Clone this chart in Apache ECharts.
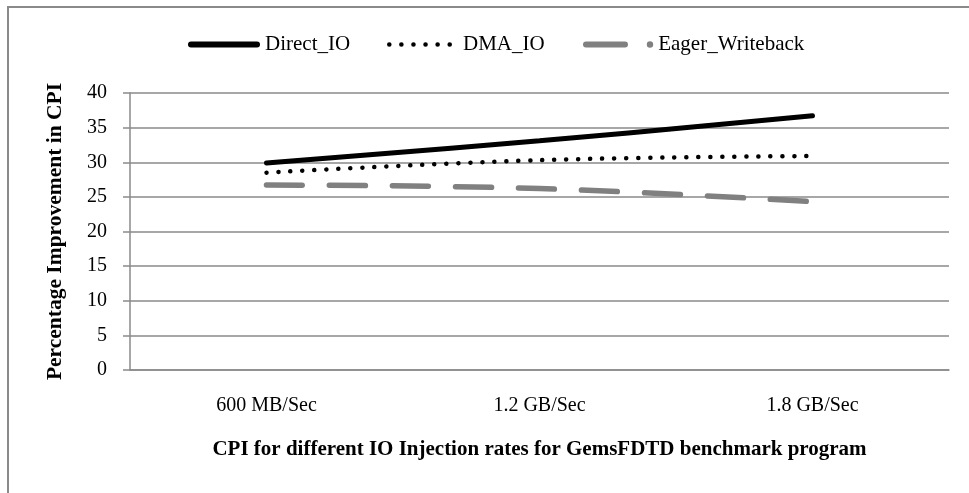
<!DOCTYPE html>
<html>
<head>
<meta charset="utf-8">
<script src="https://cdn.jsdelivr.net/npm/echarts@6/dist/echarts.min.js"></script>
<style>
html,body{margin:0;padding:0;background:#fff;}
#chart{width:969px;height:493px;}
</style>
</head>
<body>
<div id="chart"></div>
<script>
var categories = ['600 MB/Sec', '1.2 GB/Sec', '1.8 GB/Sec'];
var directIO = [29.9, 33.1, 36.7];
var dmaIO = [28.5, 30.3, 30.9];
var eagerWriteback = [26.7, 26.2, 24.3];
var seriesNames = ['Direct_IO', 'DMA_IO', 'Eager_Writeback'];
var yTicks = [0, 5, 10, 15, 20, 25, 30, 35, 40];

var FONT = '"Liberation Serif", "Times New Roman", serif';

// legend icon shapes (Excel-like line samples)
function dotsPath(n, r, step) {
  var p = '';
  for (var i = 0; i < n; i++) {
    var cx = r + i * step;
    p += 'M' + (cx - r) + ',' + r + ' A' + r + ',' + r + ' 0 1,0 ' + (cx + r) + ',' + r +
         ' A' + r + ',' + r + ' 0 1,0 ' + (cx - r) + ',' + r + ' Z ';
  }
  return 'path://' + p;
}
var iconSolid = 'path://M3,0 L69,0 A3,3 0 0,1 69,6 L3,6 A3,3 0 0,1 3,0 Z';
var iconDots = dotsPath(6, 2.3, 12.1);
var iconDash = 'path://M3,0 L42,0 A3,3 0 0,1 42,6 L3,6 A3,3 0 0,1 3,0 Z ' +
               'M63.8,3 A3.2,3.2 0 1,0 70.2,3 A3.2,3.2 0 1,0 63.8,3 Z';

function legendFor(name, icon, left, w, textPad) {
  return {
    left: left, top: 34, padding: 0,
    itemWidth: w, itemHeight: 8,
    icon: icon,
    itemStyle: { borderWidth: 0 },
    textStyle: { fontFamily: FONT, fontSize: 21, color: '#000', padding: [0, 0, 0, textPad] },
    data: [{ name: name, icon: icon }]
  };
}

var chart = echarts.init(document.getElementById('chart'));
chart.setOption({
  animation: false,
  backgroundColor: '#fff',
  graphic: [{
    type: 'rect',
    shape: { x: 8, y: 7, width: 1000, height: 600 },
    style: { fill: 'none', stroke: '#8a8a8a', lineWidth: 2 },
    silent: true
  }],
  legend: [
    legendFor(seriesNames[0], iconSolid, 188, 72, 0),
    legendFor(seriesNames[1], iconDots, 387, 65, 6),
    legendFor(seriesNames[2], iconDash, 583, 70.2, 0)
  ],
  grid: { left: 130, right: 20, top: 93, bottom: 123 },
  xAxis: {
    type: 'category',
    data: categories,
    boundaryGap: true,
    axisLine: { lineStyle: { color: '#8a8a8a', width: 1.5 } },
    axisTick: { show: false },
    axisLabel: { fontFamily: FONT, fontSize: 20, color: '#000', margin: 26 },
    name: 'CPI for different IO Injection rates for GemsFDTD benchmark program',
    nameLocation: 'middle',
    nameGap: 69,
    nameTextStyle: { fontFamily: FONT, fontSize: 21, fontWeight: 'bold', color: '#000' }
  },
  yAxis: {
    type: 'value',
    min: yTicks[0],
    max: yTicks[yTicks.length - 1],
    interval: yTicks[1] - yTicks[0],
    axisLine: { show: true, lineStyle: { color: '#8a8a8a', width: 1.5 } },
    axisTick: { show: true, length: 7, lineStyle: { color: '#8a8a8a', width: 1.5 } },
    splitLine: { lineStyle: { color: '#8a8a8a', width: 1.5 } },
    axisLabel: { fontFamily: FONT, fontSize: 20, color: '#000', margin: 23 },
    name: 'Percentage Improvement in CPI',
    nameLocation: 'middle',
    nameRotate: 90,
    nameGap: 64,
    nameTextStyle: { fontFamily: FONT, fontSize: 21.5, fontWeight: 'bold', color: '#000' }
  },
  series: [
    {
      name: seriesNames[0], type: 'line', data: directIO, smooth: 0.4,
      symbol: 'none', itemStyle: { color: '#000' },
      lineStyle: { color: '#000', width: 5, cap: 'round' }
    },
    {
      name: seriesNames[1], type: 'line', data: dmaIO, smooth: 0.4,
      symbol: 'none', itemStyle: { color: '#000' },
      lineStyle: { color: '#000', width: 4.5, type: [0.1, 11.9], cap: 'round' }
    },
    {
      name: seriesNames[2], type: 'line', data: eagerWriteback, smooth: 0.4,
      symbol: 'none', itemStyle: { color: '#808080' },
      lineStyle: { color: '#808080', width: 5.5, type: [36, 27], cap: 'round' }
    }
  ]
});
</script>
</body>
</html>
